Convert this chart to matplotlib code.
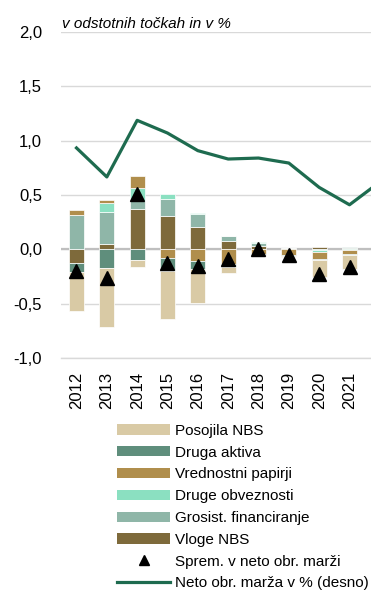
import matplotlib
matplotlib.use("Agg")
import matplotlib.pyplot as plt
from matplotlib.patches import Patch
from matplotlib.lines import Line2D
import numpy as np

plt.rcParams['font.family'] = ['Liberation Sans', 'DejaVu Sans']

years = ['2012', '2013', '2014', '2015', '2016', '2017', '2018', '2019', '2020', '2021', '2022']

# contributions to the change in net interest margin (percentage points)
vloge_nbs = [-0.130, 0.052, 0.374, 0.310, 0.206, 0.078, 0.035, 0.005, 0.025, 0.010]
grosist_fin = [0.313, 0.288, 0.067, 0.156, 0.122, 0.046, 0.020, 0.010, -0.010, 0.010]
druge_obv = [0.000, 0.089, 0.126, 0.044, 0.005, 0.000, 0.010, 0.000, -0.010, -0.010]
vred_papirji = [0.052, 0.021, 0.107, -0.080, -0.104, -0.137, -0.045, -0.050, -0.065, -0.030]
druga_aktiva = [-0.080, -0.169, -0.095, -0.115, -0.074, -0.028, -0.010, -0.015, -0.010, -0.010]
posojila_nbs = [-0.354, -0.543, -0.070, -0.442, -0.312, -0.050, -0.005, -0.005, -0.160, -0.130]

# change in net interest margin (markers)
sprem_marze = [-0.200, -0.262, 0.509, -0.127, -0.157, -0.091, 0.005, -0.055, -0.230, -0.160]

# net interest margin in % (right axis)
neto_marza = [0.933, 0.666, 1.187, 1.070, 0.908, 0.831, 0.840, 0.794, 0.570, 0.410, 0.620]

series = [
    ('Vloge NBS', vloge_nbs, '#7E6A3B'),
    ('Grosist. financiranje', grosist_fin, '#8FB6A8'),
    ('Druge obveznosti', druge_obv, '#8BE0C1'),
    ('Vrednostni papirji', vred_papirji, '#B08E4C'),
    ('Druga aktiva', druga_aktiva, '#5F8E7C'),
    ('Posojila NBS', posojila_nbs, '#D9CAA5'),
]

fig = plt.figure(figsize=(3.71, 5.90), dpi=100)
ax = fig.add_axes([0.1653, 0.3932, 0.8994, 0.5526])

n_bars = len(sprem_marze)
x_bar = np.arange(n_bars)
x_all = np.arange(len(years))

pos_base = np.zeros(n_bars)
neg_base = np.zeros(n_bars)
for name, vals, col in series:
    v = np.array(vals)
    base = np.where(v >= 0, pos_base, neg_base)
    ax.bar(x_bar, v, bottom=base, width=0.5, color=col,
           edgecolor='white', linewidth=0.5, zorder=3)
    pos_base = pos_base + np.where(v >= 0, v, 0)
    neg_base = neg_base + np.where(v < 0, v, 0)

ax.plot(x_bar, sprem_marze, linestyle='none', marker='^', color='black',
        markersize=10.5, zorder=5)

ax.set_xlim(-0.5, len(years) - 0.5)
ax.set_ylim(-1.0, 2.0)
yt = np.arange(-1.0, 2.01, 0.5)
ax.set_yticks(yt)
ax.set_yticklabels([f'{t:.1f}'.replace('.', ',') for t in yt])
ax.set_xticks(x_bar)
ax.set_xticklabels(years[:n_bars], rotation=90)
ax.tick_params(axis='both', length=0, labelsize=12, colors='black')
ax.tick_params(axis='y', pad=14)
ax.tick_params(axis='x', pad=10)

ax.grid(axis='y', color='#D9D9D9', linewidth=1.0, zorder=0)
ax.axhline(0, color='#BFBFBF', linewidth=1.6, zorder=2)
for s in ['left', 'right', 'top']:
    ax.spines[s].set_visible(False)
ax.spines['bottom'].set_color('#D9D9D9')
ax.spines['bottom'].set_linewidth(1.0)

ax2 = ax.twinx()
ax2.set_ylim(-1.0, 2.0)
ax2.plot(x_all, neto_marza, color='#1E6B4F', linewidth=2.3, zorder=4)
ax2.set_yticks([])
for s in ['left', 'right', 'top', 'bottom']:
    ax2.spines[s].set_visible(False)

fig.text(0.167, 0.953, 'v odstotnih točkah in v %', fontsize=11,
         fontstyle='italic', ha='left', va='baseline')

handles = [
    Patch(facecolor='#D9CAA5', label='Posojila NBS'),
    Patch(facecolor='#5F8E7C', label='Druga aktiva'),
    Patch(facecolor='#B08E4C', label='Vrednostni papirji'),
    Patch(facecolor='#8BE0C1', label='Druge obveznosti'),
    Patch(facecolor='#8FB6A8', label='Grosist. financiranje'),
    Patch(facecolor='#7E6A3B', label='Vloge NBS'),
    Line2D([], [], linestyle='none', marker='^', color='black', markersize=7,
           label='Sprem. v neto obr. marži'),
    Line2D([], [], color='#1E6B4F', linewidth=2.3, label='Neto obr. marža v % (desno)'),
]
fig.legend(handles=handles, loc='upper left', bbox_to_anchor=(0.315, 0.2815),
           frameon=False, fontsize=11, handlelength=3.5, handleheight=0.65,
           handletextpad=0.3, labelspacing=0.51, borderpad=0, borderaxespad=0)

fig.savefig('out.png', dpi=100)
